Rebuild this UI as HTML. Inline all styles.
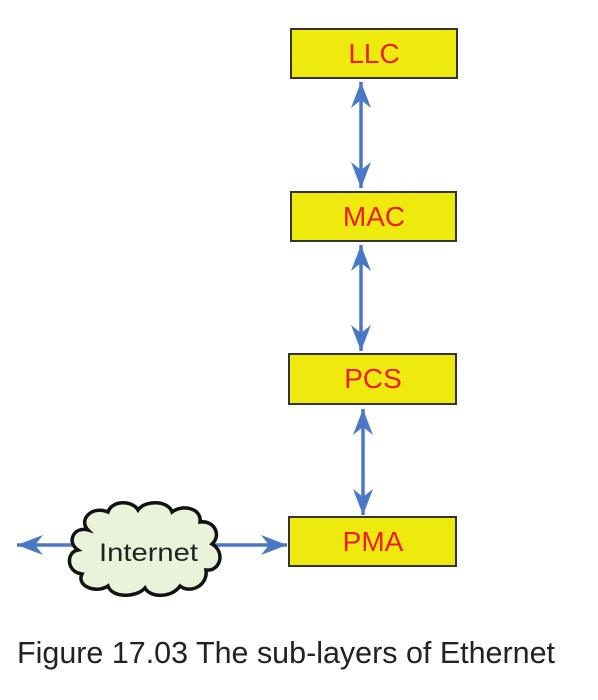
<!DOCTYPE html>
<html><head><meta charset="utf-8"><style>
html,body{margin:0;padding:0;background:#fff;}
svg{display:block;}
</style></head><body>
<svg width="598" height="700" viewBox="0 0 598 700" xmlns="http://www.w3.org/2000/svg">
<defs>
<marker id="ah" viewBox="0 0 26 20" refX="26" refY="10" markerWidth="26" markerHeight="20" markerUnits="userSpaceOnUse" orient="auto-start-reverse">
<path d="M0,0 L26,10 L0,20 L8,10 Z" fill="#4a78c4"/>
</marker>
</defs>
<g stroke="#333" stroke-width="2" fill="#eeea0e">
<rect x="291" y="29" width="166" height="49"/>
<rect x="291" y="192" width="165" height="49"/>
<rect x="289" y="354" width="167" height="50"/>
<rect x="289" y="517" width="167" height="49"/>
</g>
<g font-family="Liberation Sans, sans-serif" font-size="28" fill="#ee1c24" text-anchor="middle">
<text x="374" y="63">LLC</text>
<text x="374" y="226">MAC</text>
<text x="373" y="388">PCS</text>
<text x="373" y="551">PMA</text>
</g>
<g stroke="#4a78c4" stroke-width="3.5" fill="none">
<line x1="361" y1="82" x2="361" y2="188" marker-start="url(#ah)" marker-end="url(#ah)"/>
<line x1="361" y1="245" x2="361" y2="351" marker-start="url(#ah)" marker-end="url(#ah)"/>
<line x1="363" y1="409" x2="363" y2="515" marker-start="url(#ah)" marker-end="url(#ah)"/>
<line x1="17" y1="545" x2="80" y2="545" marker-start="url(#ah)"/>
<line x1="215" y1="545" x2="287" y2="545" marker-end="url(#ah)"/>
</g>
<path d="M88,530 C78,520 92,505 108,512 C112,500 132,500 138,510 C145,500 168,500 172,512 C182,504 202,508 200,522 C214,520 222,535 212,544 C226,552 220,572 206,570 C208,586 190,594 180,586 C172,598 150,598 145,588 C136,598 112,598 108,586 C96,594 76,586 82,574 C66,572 66,552 78,550 C66,542 74,526 88,530 Z" fill="#e9f3da" stroke="#111" stroke-width="3.5"/>
<text x="99" y="561" font-family="Liberation Sans, sans-serif" font-size="25" fill="#222" textLength="99" lengthAdjust="spacingAndGlyphs">Internet</text>
<text x="17" y="663" font-family="Liberation Sans, sans-serif" font-size="31" fill="#222" textLength="538" lengthAdjust="spacingAndGlyphs">Figure 17.03 The sub-layers of Ethernet</text>
</svg>
</body></html>
